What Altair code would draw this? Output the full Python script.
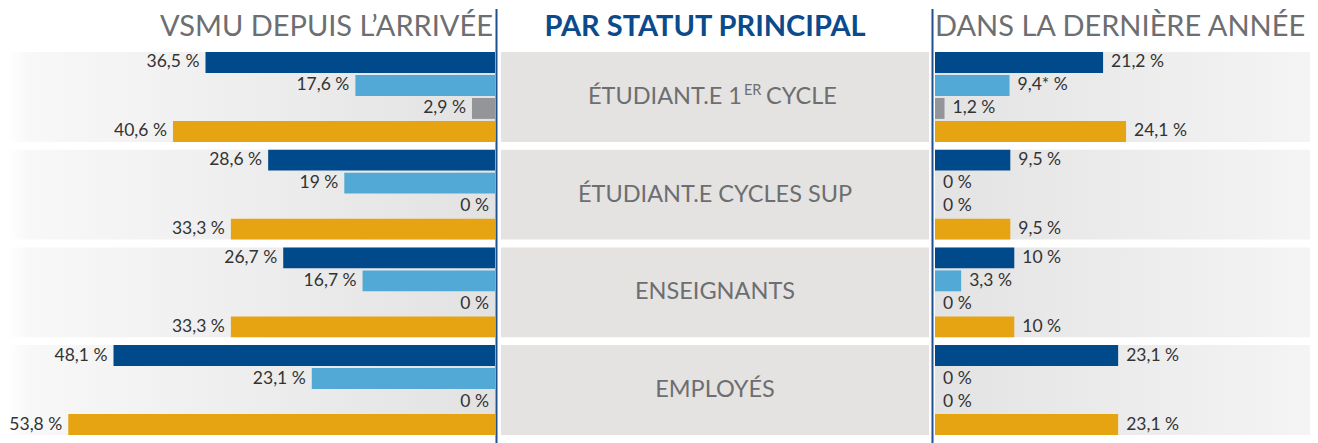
import altair as alt
import pandas as pd

# ---------------- data ----------------
groups = ["ÉTUDIANT.E 1ER CYCLE", "ÉTUDIANT.E CYCLES SUP", "ENSEIGNANTS", "EMPLOYÉS"]
series = ["A", "B", "C", "D"]
series_colors = ["#004a8c", "#52a9d6", "#939598", "#e6a413"]

left_values = [
    [36.5, 17.6, 2.9, 40.6],
    [28.6, 19, 0, 33.3],
    [26.7, 16.7, 0, 33.3],
    [48.1, 23.1, 0, 53.8],
]
right_values = [
    [21.2, 9.4, 1.2, 24.1],
    [9.5, 0, 0, 9.5],
    [10, 3.3, 0, 10],
    [23.1, 0, 0, 23.1],
]
right_notes = [
    ["", "*", "", ""],
    ["", "", "", ""],
    ["", "", "", ""],
    ["", "", "", ""],
]

titles = ["VSMU DEPUIS L’ARRIVÉE", "PAR STATUT PRINCIPAL", "DANS LA DERNIÈRE ANNÉE"]

label_main = ["ÉTUDIANT.E 1", "ÉTUDIANT.E CYCLES SUP", "ENSEIGNANTS", "EMPLOYÉS"]
label_sup = ["ER", "", "", ""]
label_tail = ["CYCLE", "", "", ""]

LEFT_MAX = 61.4
RIGHT_MAX = 47.3
W_L, W_C, W_R, H = 487, 428, 375, 383
FONT = "Lato"
GREY_TXT = "#6d6e71"
BLUE = "#0b4a8b"
TOP = 43
TITLE_Y = -16


def fmt(v, note=""):
    return f"{v:g}".replace(".", ",") + note + " %"


rows_l, rows_r = [], []
for gi, g in enumerate(groups):
    for si, s in enumerate(series):
        rows_l.append({"group": g, "series": s, "value": left_values[gi][si],
                       "label": fmt(left_values[gi][si])})
        rows_r.append({"group": g, "series": s, "value": right_values[gi][si],
                       "label": fmt(right_values[gi][si], right_notes[gi][si])})
df_l = pd.DataFrame(rows_l)
df_r = pd.DataFrame(rows_r)
df_g = pd.DataFrame({"group": groups, "main": label_main, "sup": label_sup, "tail": label_tail})
df_t = pd.DataFrame({"title": titles, "panel": ["L", "C", "R"]})
one = pd.DataFrame({"k": [0]})

y_enc = alt.Y("group:N", sort=groups, axis=None,
              scale=alt.Scale(paddingInner=0.08, paddingOuter=0))
yoff_enc = alt.YOffset("series:N", sort=series,
                       scale=alt.Scale(paddingInner=0.09, paddingOuter=0))
col_enc = alt.Color("series:N", scale=alt.Scale(domain=series, range=series_colors), legend=None)

grad_left = alt.LinearGradient(
    gradient="linear", x1=0, x2=1, y1=0, y2=0,
    stops=[alt.GradientStop(color="#ffffff", offset=0),
           alt.GradientStop(color="#f8f8f8", offset=0.04),
           alt.GradientStop(color="#e2e2e2", offset=1)])
grad_right = alt.LinearGradient(
    gradient="linear", x1=0, x2=1, y1=0, y2=0,
    stops=[alt.GradientStop(color="#e3e3e3", offset=0),
           alt.GradientStop(color="#f4f4f4", offset=1)])


def title_mark(panel, xdatum, align, bold=False, color=GREY_TXT, dx=0):
    return alt.Chart(df_t).transform_filter(f"datum.panel == '{panel}'").mark_text(
        align=align, baseline="alphabetic", fontSize=29, font=FONT, color=color,
        fontWeight="bold" if bold else "normal", dx=dx).encode(
        x=xdatum, y=alt.value(TITLE_Y), text="title:N")


def vline(xpix):
    return alt.Chart(one).mark_rule(color="#1f4f8f", strokeWidth=2).encode(
        x=alt.value(xpix), y=alt.value(-TOP), y2=alt.value(H + 10))


# ---------------- left panel ----------------
xl = alt.Scale(domain=[0, LEFT_MAX], reverse=True, nice=False, zero=True)
bg_l = alt.Chart(df_g).mark_rect(color=grad_left).encode(
    y=y_enc,
    x=alt.XDatum(LEFT_MAX, scale=xl, axis=None),
    x2=alt.X2Datum(0),
)
bars_l = alt.Chart(df_l).mark_bar().encode(
    x=alt.X("value:Q", scale=xl, axis=None), y=y_enc, yOffset=yoff_enc, color=col_enc)
text_l = alt.Chart(df_l).mark_text(align="right", baseline="middle", dx=-6, fontSize=17.5,
                                   font=FONT, color="#333333").encode(
    x=alt.X("value:Q", scale=xl, axis=None), y=y_enc, yOffset=yoff_enc, text="label:N")
left = alt.layer(
    bg_l, bars_l, text_l, vline(W_L + 1.5),
    title_mark("L", alt.XDatum(0, scale=xl, axis=None), "right", dx=-2),
).properties(width=W_L, height=H)

# ---------------- center panel ----------------
xc = alt.Scale(domain=[0, 1], nice=False, zero=False)
bg_c = alt.Chart(df_g).mark_rect(color="#e4e3e2").encode(
    y=y_enc, x=alt.XDatum(0, scale=xc, axis=None), x2=alt.X2Datum(1))
txt_c = alt.Chart(df_g).transform_filter("datum.sup == ''").mark_text(
    align="center", baseline="middle", fontSize=23.5, font=FONT, color=GREY_TXT).encode(
    y=y_enc, x=alt.XDatum(0.5, scale=xc, axis=None), text="main:N")
txt_c1 = alt.Chart(df_g).transform_filter("datum.sup != ''").mark_text(
    align="right", baseline="middle", dx=27, fontSize=23.5, font=FONT, color=GREY_TXT).encode(
    y=y_enc, x=alt.XDatum(0.5, scale=xc, axis=None), text="main:N")
txt_c2 = alt.Chart(df_g).transform_filter("datum.sup != ''").mark_text(
    align="left", baseline="middle", dx=29, dy=-6, fontSize=14.5, font=FONT, color=GREY_TXT).encode(
    y=y_enc, x=alt.XDatum(0.5, scale=xc, axis=None), text="sup:N")
txt_c3 = alt.Chart(df_g).transform_filter("datum.sup != ''").mark_text(
    align="left", baseline="middle", dx=51, fontSize=23.5, font=FONT, color=GREY_TXT).encode(
    y=y_enc, x=alt.XDatum(0.5, scale=xc, axis=None), text="tail:N")
center = alt.layer(
    bg_c, txt_c, txt_c1, txt_c2, txt_c3,
    title_mark("C", alt.XDatum(0.5, scale=xc, axis=None), "center", bold=True, color=BLUE, dx=-10),
).properties(width=W_C, height=H)

# ---------------- right panel ----------------
xr = alt.Scale(domain=[0, RIGHT_MAX], nice=False, zero=True)
bg_r = alt.Chart(df_g).mark_rect(color=grad_right).encode(
    y=y_enc, x=alt.XDatum(0, scale=xr, axis=None), x2=alt.X2Datum(RIGHT_MAX))
bars_r = alt.Chart(df_r).mark_bar().encode(
    x=alt.X("value:Q", scale=xr, axis=None), y=y_enc, yOffset=yoff_enc, color=col_enc)
text_r = alt.Chart(df_r).mark_text(align="left", baseline="middle", dx=8, fontSize=17.5,
                                   font=FONT, color="#333333").encode(
    x=alt.X("value:Q", scale=xr, axis=None), y=y_enc, yOffset=yoff_enc, text="label:N")
right = alt.layer(
    bg_r, bars_r, text_r, vline(-2.5),
    title_mark("R", alt.XDatum(0, scale=xr, axis=None), "left"),
).properties(width=W_R, height=H)

chart = alt.hconcat(left, center, right, spacing=6, bounds="flush").properties(
    padding=0, background="white"
).configure_view(stroke=None).resolve_scale(color="shared")

chart.save("out.html", embed_options={"renderer": "svg", "actions": False})
